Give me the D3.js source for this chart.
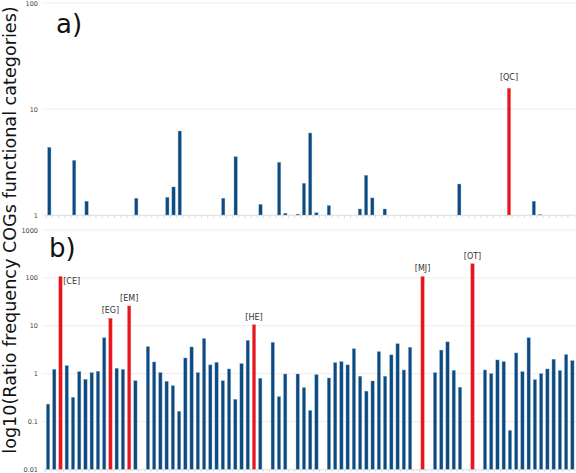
<!DOCTYPE html>
<html><head><meta charset="utf-8">
<script src="https://cdn.jsdelivr.net/npm/d3@7"></script>
<style>body{margin:0;background:#fff}svg{display:block}text{font-family:"DejaVu Sans",sans-serif}</style>
</head><body><svg id="c" width="576" height="473"></svg>
<script>
// Panel a: 85 category slots, values (null = no bar)
const slotsA = d3.range(85);
const valuesA = [4.35,null,null,null,3.28,null,1.35,null,null,null,
  null,null,null,null,1.44,null,null,null,null,1.47,
  1.84,6.2,null,null,null,null,null,null,1.44,null,
  3.55,null,null,null,1.26,null,null,3.14,1.04,null,
  1.02,1.99,5.94,1.05,null,1.23,null,null,null,null,
  1.14,2.37,1.45,null,1.14,null,null,null,null,null,
  null,null,null,null,null,null,1.96,null,null,null,
  null,null,null,null,15.7,null,null,null,1.35,1.01,
  null,null,null,null,null];
const labelsA = {74:"[QC]"};

// Panel b: 85 category slots
const slotsB = d3.range(85);
const valuesB = [0.23,1.23,107,1.47,0.32,1.1,0.76,1.05,1.12,5.6,
  14.3,1.29,1.23,25.9,0.71,null,3.66,1.75,1.05,0.69,
  0.56,0.163,2.12,3.6,1.05,5.4,1.52,1.72,0.71,1.25,
  0.29,1.62,4.95,10.5,0.8,null,4.5,0.33,0.98,null,
  0.98,0.51,0.17,0.95,null,0.81,1.7,1.78,1.52,3.3,
  0.88,0.43,0.70,2.88,0.88,2.46,4.2,1.19,3.55,null,
  107,null,1.05,3.1,4.6,1.17,0.52,null,198,null,
  1.19,1.0,1.93,1.78,0.065,2.7,1.1,5.6,0.75,1.0,
  1.25,2.0,1.16,2.5,1.87];
const labelsB = {2:"[CE]",10:"[EG]",13:"[EM]",33:"[HE]",60:"[MJ]",68:"[OT]"};

const ticksA = [1,10,100];
const ticksB = [0.01,0.1,1,10,100,1000];
const yTitle = "log10(Ratio frequency COGs functional categories)";

const blue = "#0d4a80", red = "#e8141c", grid = "#eeeeee";
const svg = d3.select("#c");

function panel(o){
  const x = d3.scaleBand().domain(o.slots).range(o.xr).paddingInner(0.46).paddingOuter(0.23);
  const y = d3.scaleLog().domain(o.yd).range(o.yr);
  const g = svg.append("g");
  g.selectAll("line.grid").data(o.ticks).enter().append("line")
    .attr("x1", 42).attr("x2", 576).attr("y1", d=>y(d)).attr("y2", d=>y(d))
    .attr("stroke", grid).attr("stroke-width",1);
  const ax = d3.axisBottom(x).tickSize(3).tickFormat("");
  const axg = g.append("g").attr("transform",`translate(0,${o.yr[0]})`).call(ax);
  axg.select(".domain").attr("stroke","#e4e4e4");
  axg.selectAll(".tick line").attr("stroke","#dcdcdc").attr("transform",`translate(${-x.step()/2},0)`);
  const yax = d3.axisLeft(y).tickValues(o.ticks).tickSize(0).tickPadding(0).tickFormat(d=>String(d));
  const yg = g.append("g").attr("transform","translate(38,0)").call(yax);
  yg.select(".domain").remove();
  yg.selectAll("text").attr("font-size",6.5).attr("fill","#444").attr("font-family","DejaVu Sans");
  const data = o.slots.map(i=>({i, v:o.values[i], lab:o.labels[i]})).filter(d=>d.v!=null);
  g.selectAll("rect.bar").data(data).enter().append("rect")
    .attr("x", d=>x(d.i)).attr("width", x.bandwidth())
    .attr("y", d=>y(d.v)).attr("height", d=>o.yr[0]-y(d.v))
    .attr("fill", d=>d.lab?red:blue)
    .attr("stroke", d=>d.lab?"#f08080":"#8fb0d0").attr("stroke-width",0.4);
  g.selectAll("text.lab").data(data.filter(d=>d.lab)).enter().append("text")
    .attr("x", d=> d.lab==="[CE]" ? x(d.i)+x.bandwidth()+1 : x(d.i)+x.bandwidth()/2)
    .attr("y", d=> d.lab==="[CE]" ? y(d.v)+8 : y(d.v)-(d.lab==="[QC]"?8:5))
    .attr("text-anchor", d=> d.lab==="[CE]" ? "start":"middle")
    .attr("font-size",8).attr("fill","#333").text(d=>d.lab);
  g.append("text").attr("x",o.letterX).attr("y",o.letterY).attr("font-size",26).attr("fill","#111").text(o.letter);
}

panel({slots:slotsA, values:valuesA, labels:labelsA, xr:[46.2,574.2], yd:[1,100], yr:[215,3],
  ticks:ticksA, letter:"a)", letterX:56, letterY:33});
panel({slots:slotsB, values:valuesB, labels:labelsB, xr:[44.9,575.5], yd:[0.01,1000], yr:[469.3,230],
  ticks:ticksB, letter:"b)", letterX:49, letterY:257});

svg.append("text").attr("transform","translate(16,230) rotate(-90)").attr("text-anchor","middle")
  .attr("font-size",17.6).attr("fill","#111").text(yTitle);
</script></body></html>
